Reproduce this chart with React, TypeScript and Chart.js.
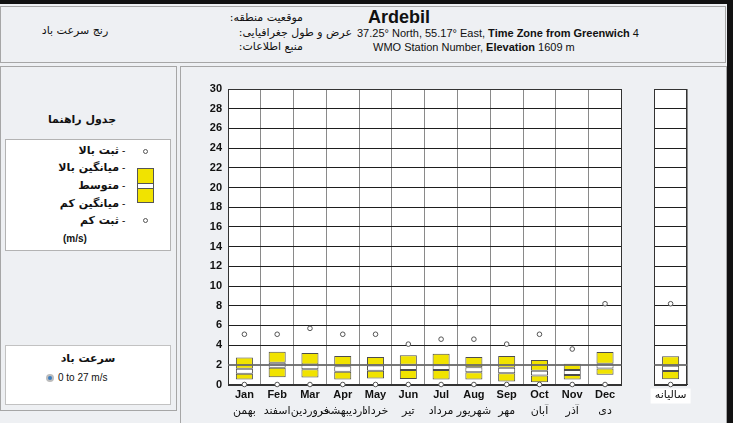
import React, { useEffect, useRef } from 'react';
import { Chart, registerables } from 'chart.js';

Chart.register(...registerables);

// ---------- data ----------
const months = ['Jan', 'Feb', 'Mar', 'Apr', 'May', 'Jun', 'Jul', 'Aug', 'Sep', 'Oct', 'Nov', 'Dec'];
const persianMonths = ['بهمن', 'اسفند', 'فروردین', 'اردیبهشت', 'خرداد', 'تیر', 'مرداد', 'شهریور', 'مهر', 'آبان', 'آذر', 'دی'];
const annualLabel = 'سالیانه';

// monthly values (m/s)
const lowerAvg = [0.5, 0.73, 0.7, 0.5, 0.6, 0.56, 0.5, 0.5, 0.3, 0.22, 0.5, 1.0];
const meanLow = [1.1, 1.7, 1.55, 1.3, 1.4, 1.48, 1.46, 1.25, 1.15, 0.92, 0.97, 1.62];
const meanHigh = [1.6, 2.2, 2.02, 1.85, 1.92, 2.0, 1.95, 1.76, 1.69, 1.4, 1.46, 2.1];
const upperAvg = [2.73, 3.33, 3.2, 2.9, 2.79, 2.96, 3.12, 2.79, 2.89, 2.48, 2.1, 3.3];
const highRecord = [5.1, 5.1, 5.7, 5.1, 5.1, 4.1, 4.6, 4.6, 4.1, 5.1, 3.6, 8.2];
const lowRecord = [0, 0, 0, 0, 0, 0, 0, 0, 0, 0, 0, 0];

// annual values (m/s)
const annualLowerAvg = 0.53;
const annualMeanLow = 1.38;
const annualMeanHigh = 1.9;
const annualUpperAvg = 2.87;
const annualHighRecord = 8.2;
const annualLowRecord = 0;

const yMin = 0;
const yMax = 30;
const yStep = 2;

// ---------- styles ----------
const PANEL = '#eef0f3';
const YELLOW = '#f1e300';
const BOX_BORDER = '#4d4d4d';
const EN = '"Liberation Sans", Arial, "DejaVu Sans", sans-serif';
const FA = '"DejaVu Sans", "Liberation Sans", sans-serif';

const xLabels = [...months, '', annualLabel];
const x2Labels = [...persianMonths, '', ''];

function rangeSeries(lo: number[], hi: number[], aLo: number, aHi: number) {
  return [...lo.map((v, i) => [v, hi[i]]), null, [aLo, aHi]];
}

const chartPlugin = {
  id: 'panelPainter',
  beforeDraw(chart: any) {
    const { ctx, chartArea: a } = chart;
    const x = chart.scales.x;
    ctx.save();
    ctx.fillStyle = PANEL;
    ctx.fillRect(0, 0, chart.width, chart.height);
    ctx.fillStyle = '#ffffff';
    ctx.fillRect(a.left, a.top, a.right - a.left, a.bottom - a.top);
    const ax = x.getPixelForValue(13);
    ctx.fillRect(ax - 20, a.bottom + 4, 40, 15);
    ctx.restore();
  },
  beforeDatasetsDraw(chart: any) {
    const { ctx, chartArea: a } = chart;
    const x = chart.scales.x;
    const half = (x.getPixelForValue(1) - x.getPixelForValue(0)) / 2;
    const gL = Math.round(x.getPixelForValue(12) - half) + 0.5;
    const gR = Math.round(x.getPixelForValue(12) + half) + 0.5;
    const top = Math.round(a.top) + 0.5;
    const bot = Math.round(a.bottom) + 0.5;
    const left = Math.round(a.left) + 0.5;
    const right = Math.round(a.right) - 0.5;
    ctx.save();
    ctx.fillStyle = PANEL;
    ctx.fillRect(gL + 0.5, a.top - 2, gR - gL - 1, a.bottom - a.top + 4);
    ctx.strokeStyle = '#333333';
    ctx.lineWidth = 1;
    ctx.strokeRect(left, top, gL - left, bot - top);
    ctx.strokeRect(gR, top, right - gR, bot - top);
    ctx.restore();
  },
  afterDatasetsDraw(chart: any) {
    const { ctx, chartArea: a } = chart;
    const x = chart.scales.x;
    const y = chart.scales.y;
    const half = (x.getPixelForValue(1) - x.getPixelForValue(0)) / 2;
    const gL = x.getPixelForValue(12) - half;
    const gR = x.getPixelForValue(12) + half;
    const py = Math.round(y.getPixelForValue(2));
    ctx.save();
    ctx.strokeStyle = 'rgba(105,105,105,0.9)';
    ctx.lineWidth = 2;
    ctx.beginPath();
    ctx.moveTo(a.left, py);
    ctx.lineTo(gL, py);
    ctx.moveTo(gR, py);
    ctx.lineTo(a.right, py);
    ctx.stroke();
    ctx.restore();
  },
};

function WindChart() {
  const ref = useRef<HTMLCanvasElement | null>(null);
  useEffect(() => {
    if (!ref.current) return;
    const barCommon = {
      type: 'bar' as const,
      borderColor: BOX_BORDER,
      borderWidth: 1,
      borderSkipped: false,
      grouped: false,
      barPercentage: 0.52,
      categoryPercentage: 1,
      order: 2,
    };
    const pointCommon = {
      type: 'line' as const,
      showLine: false,
      pointRadius: 2.3,
      pointBackgroundColor: '#ffffff',
      pointBorderColor: '#555555',
      pointBorderWidth: 1,
      clip: false as any,
      order: 0,
    };
    const chart = new Chart(ref.current, {
      type: 'bar',
      data: {
        labels: xLabels,
        datasets: [
          { ...barCommon, label: 'lower', data: rangeSeries(lowerAvg, meanLow, annualLowerAvg, annualMeanLow) as any, backgroundColor: YELLOW },
          { ...barCommon, label: 'mean', data: rangeSeries(meanLow, meanHigh, annualMeanLow, annualMeanHigh) as any, backgroundColor: '#ffffff' },
          { ...barCommon, label: 'upper', data: rangeSeries(meanHigh, upperAvg, annualMeanHigh, annualUpperAvg) as any, backgroundColor: YELLOW },
          { ...pointCommon, label: 'high record', data: [...highRecord, null, annualHighRecord] as any },
          { ...pointCommon, label: 'low record', data: [...lowRecord, null, annualLowRecord] as any },
        ],
      },
      options: {
        responsive: false,
        animation: false,
        devicePixelRatio: 1,
        layout: { padding: { top: 22, right: 39, left: 0, bottom: 0 } },
        plugins: { legend: { display: false }, tooltip: { enabled: false } },
        scales: {
          x: {
            type: 'category',
            offset: true,
            grid: { offset: true, color: '#8a8a8a', lineWidth: 1, drawTicks: false },
            border: { display: true, color: '#333333' },
            ticks: {
              autoSkip: false,
              maxRotation: 0,
              padding: 4,
              color: '#111111',
              font: (c: any) =>
                c.index === 13
                  ? { family: FA, size: 11, weight: 'normal' }
                  : { family: EN, size: 11, weight: 'bold' },
            },
            afterFit: (s: any) => { s.height = 20; },
          },
          x2: {
            type: 'category',
            labels: x2Labels,
            position: 'bottom',
            offset: true,
            weight: 1,
            grid: { display: false, drawTicks: false },
            border: { display: false },
            ticks: {
              autoSkip: false,
              maxRotation: 0,
              padding: 0,
              color: '#111111',
              font: { family: FA, size: 11 },
            },
            afterFit: (s: any) => { s.height = 18.5; },
          },
          y: {
            min: yMin,
            max: yMax,
            ticks: {
              stepSize: yStep,
              padding: 6,
              color: '#111111',
              font: { family: EN, size: 11, weight: 'bold' },
            },
            grid: {
              drawTicks: false,
              color: (c: any) => (c.tick && c.tick.value === 2 ? 'rgba(0,0,0,0)' : '#1e1e1e'),
              lineWidth: 1,
            },
            border: { display: true, color: '#333333' },
            afterFit: (s: any) => { s.width = 47; },
          },
        } as any,
      },
      plugins: [chartPlugin],
    });
    return () => chart.destroy();
  }, []);
  return (
    <canvas
      ref={ref}
      width={545}
      height={356}
      style={{ position: 'absolute', left: 181, top: 67, width: 545, height: 356, display: 'block' }}
    />
  );
}

type TProps = {
  x: number;
  y: number;
  align?: 'left' | 'right' | 'center';
  size?: number;
  bold?: boolean;
  font?: string;
  rtl?: boolean;
  children: React.ReactNode;
};

function T({ x, y, align = 'left', size = 11, bold = false, font = EN, rtl = false, children }: TProps) {
  const style: React.CSSProperties = {
    position: 'absolute',
    top: y,
    whiteSpace: 'nowrap',
    lineHeight: 1,
    fontSize: size,
    fontFamily: font,
    fontWeight: bold ? 'bold' : 'normal',
    color: '#111',
    direction: rtl ? 'rtl' : 'ltr',
  };
  if (align === 'left') {
    style.left = x;
    style.transform = 'translateY(-50%)';
  } else if (align === 'right') {
    style.right = 733 - x;
    style.transform = 'translateY(-50%)';
  } else {
    style.left = x;
    style.transform = 'translate(-50%, -50%)';
  }
  return <div style={style}>{children}</div>;
}

function Box({ l, t, w, h, bg = PANEL, border = '1px solid #a6a6a6' }: { l: number; t: number; w: number; h: number; bg?: string; border?: string }) {
  return <div style={{ position: 'absolute', left: l, top: t, width: w, height: h, background: bg, border, boxSizing: 'border-box' }} />;
}

function Dot({ x, y }: { x: number; y: number }) {
  return (
    <div
      style={{
        position: 'absolute',
        left: x - 2.5,
        top: y - 2.5,
        width: 5,
        height: 5,
        borderRadius: '50%',
        border: '1px solid #555',
        background: '#fff',
        boxSizing: 'border-box',
      }}
    />
  );
}

export default function App() {
  useEffect(() => {
    document.body.style.margin = '0';
  }, []);
  const legendRows = ['ثبت بالا', 'میانگین بالا', 'متوسط', 'میانگین کم', 'ثبت کم'];
  const legendY = [150, 167, 185, 203, 220];
  return (
    <div
      style={{
        position: 'absolute',
        left: 0,
        top: 0,
        width: 733,
        height: 423,
        background: PANEL,
        overflow: 'hidden',
        fontFamily: EN,
      }}
    >
      {/* frame */}
      <div style={{ position: 'absolute', left: 0, top: 0, width: 733, height: 4, background: '#111' }} />
      <div style={{ position: 'absolute', left: 727, top: 0, width: 6, height: 423, background: '#111' }} />

      {/* header */}
      <Box l={0} t={6} w={726} h={57} />
      <T x={75} y={30} align="center" font={FA} size={11} rtl>رنج سرعت باد</T>
      <T x={303} y={17} align="right" font={FA} size={11}>:موقعیت منطقه</T>
      <T x={352} y={32} align="right" font={FA} size={11}>:عرض و طول جغرافیایی</T>
      <T x={303} y={46} align="right" font={FA} size={11}>:منبع اطلاعات</T>
      <T x={368} y={17} size={18} bold>Ardebil</T>
      <T x={357} y={33} size={11}>
        37.25° North, 55.17° East, <b>Time Zone from Greenwich</b> 4
      </T>
      <T x={373} y={47} size={11}>
        WMO Station Number, <b>Elevation</b> 1609 m
      </T>

      {/* left panel */}
      <Box l={0} t={66} w={177} h={345} />
      <T x={82} y={119} align="center" font={FA} size={11} bold rtl>جدول راهنما</T>
      <Box l={5} t={139} w={166} h={112} bg="#ffffff" border="1px solid #b3b3b3" />
      {legendRows.map((r, i) => (
        <React.Fragment key={r}>
          <T x={119} y={legendY[i]} align="right" font={FA} size={11} bold rtl>{r}</T>
          <T x={122} y={legendY[i] + 1} font={EN} size={10}>-</T>
        </React.Fragment>
      ))}
      <Dot x={145} y={151} />
      <Dot x={145} y={220} />
      <div style={{ position: 'absolute', left: 137, top: 168, width: 17, height: 35, background: YELLOW, border: '1px solid #555', boxSizing: 'border-box' }} />
      <div style={{ position: 'absolute', left: 137, top: 183, width: 17, height: 6, background: '#fff', border: '1px solid #555', boxSizing: 'border-box' }} />
      <T x={63} y={239} size={10} bold>(m/s)</T>

      <Box l={5} t={345} w={166} h={60} bg="#ffffff" border="1px solid #c2c2c2" />
      <T x={88} y={358} align="center" font={FA} size={11} bold rtl>سرعت باد</T>
      <div
        style={{
          position: 'absolute',
          left: 46,
          top: 374,
          width: 8,
          height: 8,
          borderRadius: '50%',
          background: '#3b7dc0',
          border: '2px solid #bdbdbd',
          boxSizing: 'border-box',
        }}
      />
      <T x={58} y={378} size={10}>0 to 27 m/s</T>

      {/* right panel */}
      <Box l={180} t={66} w={547} h={360} />
      <WindChart />
    </div>
  );
}
